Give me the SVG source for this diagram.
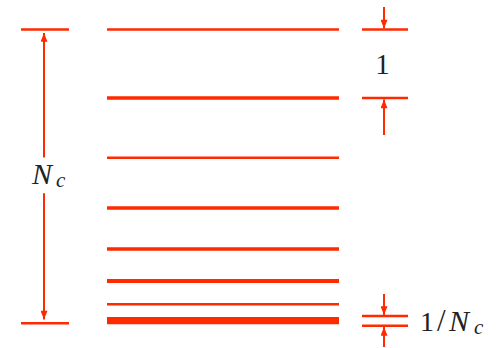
<svg xmlns="http://www.w3.org/2000/svg" width="501" height="348" viewBox="0 0 501 348">
<style>
.r{stroke:#ff2a00;fill:none}
.lab{fill:#222;font-family:"Liberation Serif","DejaVu Serif",serif}
</style>
<defs>
<marker id="ah" viewBox="0 0 10 8" refX="10" refY="4" markerWidth="10" markerHeight="7" markerUnits="userSpaceOnUse" orient="auto">
<path d="M0,0 L10,4 L0,8 z" fill="#ff2a00"/>
</marker>
</defs>
<rect width="501" height="348" fill="#fff"/>
<g id="levels">
<line class="r" x1="107" y1="29.5" x2="339" y2="29.5" stroke-width="2.6"/>
<line class="r" x1="107" y1="98" x2="339" y2="98" stroke-width="3.6"/>
<line class="r" x1="107" y1="157.7" x2="339" y2="157.7" stroke-width="2.6"/>
<line class="r" x1="107" y1="208" x2="339" y2="208" stroke-width="3.6"/>
<line class="r" x1="107" y1="249" x2="339" y2="249" stroke-width="3.6"/>
<line class="r" x1="107" y1="281" x2="339" y2="281" stroke-width="3.8"/>
<line class="r" x1="107" y1="304.3" x2="339" y2="304.3" stroke-width="2.6"/>
<line class="r" x1="107" y1="320.7" x2="339" y2="320.7" stroke-width="7.2"/>
</g>
<g id="left-dimension">
<line class="r" x1="21" y1="29.5" x2="69" y2="29.5" stroke-width="2.4"/>
<line class="r" x1="21" y1="323.3" x2="69" y2="323.3" stroke-width="2.4"/>
<line class="r" x1="44" y1="157.5" x2="44" y2="33" stroke-width="2" marker-end="url(#ah)"/>
<line class="r" x1="44" y1="193.3" x2="44" y2="319.5" stroke-width="2" marker-end="url(#ah)"/>
<text class="lab" x="32" y="183.5" font-size="30" font-style="italic">N<tspan x="56" font-size="21" dy="3">c</tspan></text>
</g>
<g id="right-dimension-top">
<line class="r" x1="362" y1="29.5" x2="408" y2="29.5" stroke-width="2.4"/>
<line class="r" x1="362" y1="98" x2="408" y2="98" stroke-width="2.4"/>
<line class="r" x1="384" y1="7" x2="384" y2="28.5" stroke-width="2" marker-end="url(#ah)"/>
<line class="r" x1="384" y1="135" x2="384" y2="99.5" stroke-width="2" marker-end="url(#ah)"/>
<text class="lab" x="382.5" y="74" font-size="29" text-anchor="middle">1</text>
</g>
<g id="right-dimension-bottom">
<line class="r" x1="362" y1="316" x2="408" y2="316" stroke-width="2.4"/>
<line class="r" x1="362" y1="325.7" x2="408" y2="325.7" stroke-width="2.4"/>
<line class="r" x1="384" y1="294" x2="384" y2="315" stroke-width="2" marker-end="url(#ah)"/>
<line class="r" x1="384" y1="347" x2="384" y2="327" stroke-width="2" marker-end="url(#ah)"/>
<text class="lab" x="420" y="330.5" font-size="28">1<tspan x="437" font-size="31">/</tspan><tspan x="449" font-style="italic" font-size="30">N</tspan><tspan x="474" font-style="italic" font-size="21" dy="3">c</tspan></text>
</g>
</svg>
